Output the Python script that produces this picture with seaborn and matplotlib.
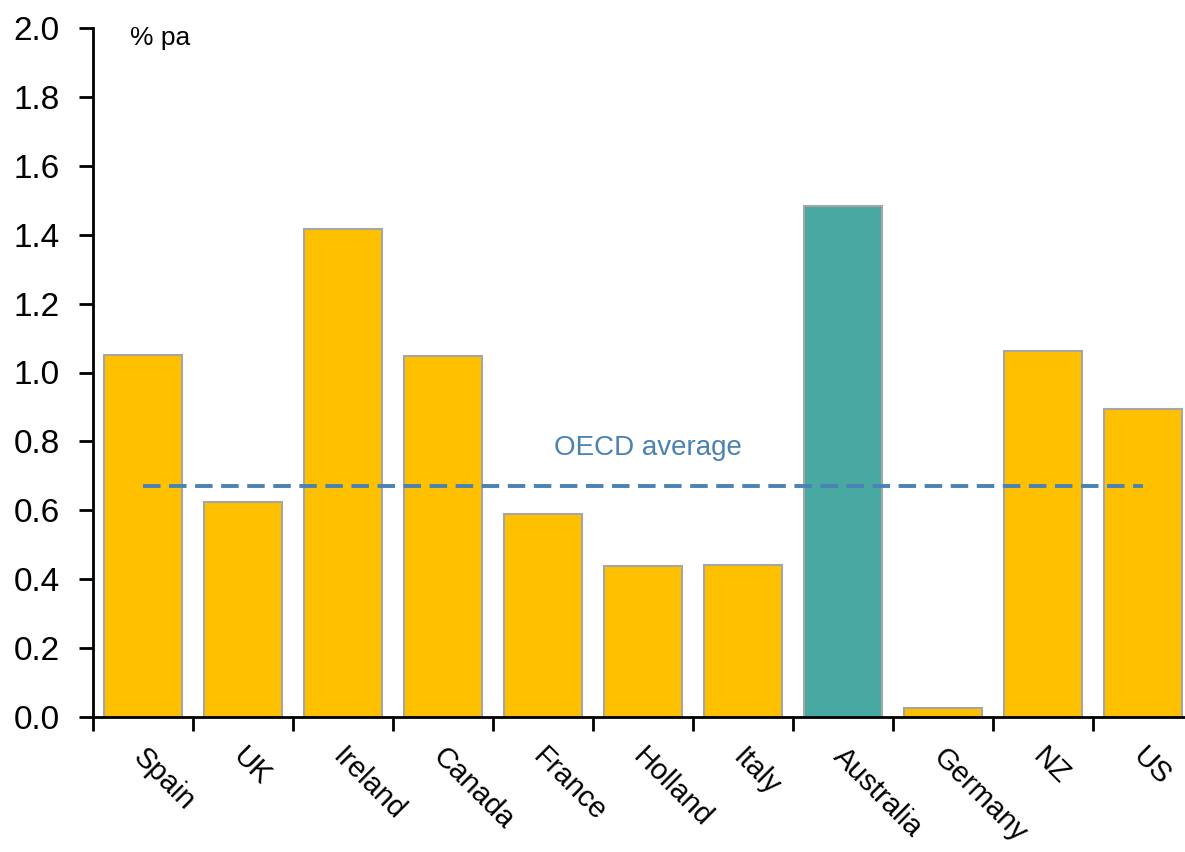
import matplotlib
matplotlib.use("Agg")
import matplotlib.pyplot as plt
import numpy as np
import pandas as pd
import seaborn as sns

# Data
countries = ["Spain", "UK", "Ireland", "Canada", "France", "Holland",
             "Italy", "Australia", "Germany", "NZ", "US"]
growth = [1.05, 0.625, 1.417, 1.048, 0.589, 0.438, 0.441, 1.483, 0.026, 1.062, 0.894]
oecd_average = 0.67
y_ticks = [0.0, 0.2, 0.4, 0.6, 0.8, 1.0, 1.2, 1.4, 1.6, 1.8, 2.0]

YELLOW = "#FFC000"
TEAL = "#47A9A2"
BLUE = "#4A82B4"
EDGE = "#A6A6A6"

sns.set_theme(style="white")
plt.rcParams["font.family"] = ["Liberation Sans", "DejaVu Sans"]
plt.rcParams["text.color"] = "black"
plt.rcParams["xtick.color"] = "black"
plt.rcParams["ytick.color"] = "black"

tick_size = 24
label_size = 21

df = pd.DataFrame({"country": countries, "growth": growth})
colors = {c: (TEAL if c == "Australia" else YELLOW) for c in countries}

fig = plt.figure(figsize=(11.85, 8.52), dpi=100)
ax = fig.add_axes([93 / 1185, 1 - 717 / 852, 1100 / 1185, (717 - 28) / 852])

sns.barplot(data=df, x="country", y="growth", hue="country", palette=colors,
            legend=False, width=0.78, edgecolor=EDGE, linewidth=1.5,
            saturation=1, ax=ax)

# OECD average reference line
ax.plot([0, len(countries) - 1], [oecd_average, oecd_average], color=BLUE,
        linewidth=2.8, linestyle=(0, (4.5, 2.2)), zorder=5)
ax.text(5.05, 0.78, "OECD average", color=BLUE, fontsize=20,
        ha="center", va="center")

ax.set_xlim(-0.5, len(countries) - 0.5)
ax.set_ylim(0, 2.0)
ax.set_yticks(y_ticks)
ax.set_yticklabels([f"{v:.1f}" for v in y_ticks], fontsize=tick_size)

# category labels at bar centres, tick marks between categories
ax.set_xticks(np.arange(len(countries)))
ax.set_xticklabels([])
ax.set_xticks(np.arange(len(countries) + 1) - 0.5, minor=True)
for i, c in enumerate(countries):
    ax.text(i + 0.04, -0.075, c, rotation=-45, rotation_mode="anchor",
            ha="left", va="top", fontsize=label_size, transform=ax.transData,
            clip_on=False)

ax.tick_params(axis="x", which="major", length=0)
ax.tick_params(axis="x", which="minor", length=10, width=2, color="black",
               direction="out", bottom=True)
ax.tick_params(axis="y", which="major", length=10, width=2, color="black",
               direction="out", left=True, pad=14, labelsize=tick_size)

for side in ["top", "right"]:
    ax.spines[side].set_visible(False)
for side in ["left", "bottom"]:
    ax.spines[side].set_color("black")
    ax.spines[side].set_linewidth(2)

ax.set_xlabel("")
ax.set_ylabel("")
ax.text(0.034, 0.986, "% pa", transform=ax.transAxes, fontsize=19,
        ha="left", va="center")

fig.savefig("out.png", dpi=100)
